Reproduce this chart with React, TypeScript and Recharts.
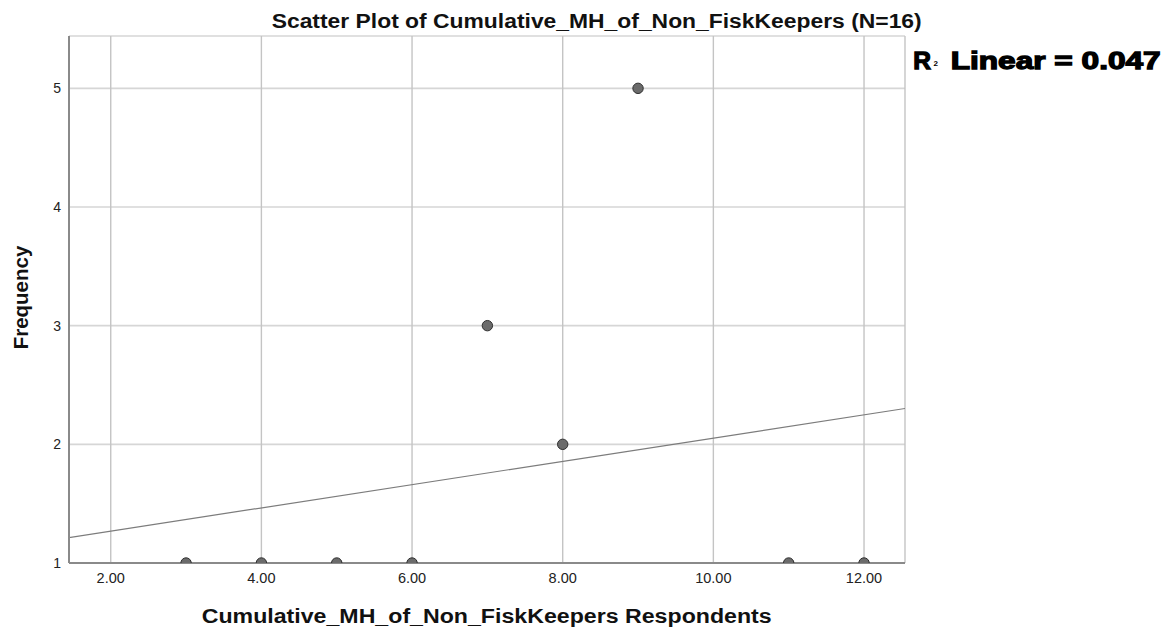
import React from "react";
import {
  ScatterChart,
  Scatter,
  XAxis,
  YAxis,
  CartesianGrid,
  ReferenceLine,
} from "recharts";

const respondentScores = [3, 4, 5, 6, 7, 8, 9, 11, 12];
const frequencies = [1, 1, 1, 1, 3, 2, 5, 1, 1];
const xTicks = [2, 4, 6, 8, 10, 12];
const yTicks = [1, 2, 3, 4, 5];
const fitLineX = [1.446, 12.544];
const fitLineY = [1.214, 2.302];

const points = respondentScores.map((x, i) => ({ x, y: frequencies[i] }));
const fitSegment = fitLineX.map((x, i) => ({ x, y: fitLineY[i] }));

const FONT = '"Liberation Sans", Arial, Helvetica, sans-serif';

const Dot = (props: any) => {
  const { cx, cy } = props;
  if (cx == null || cy == null) return null;
  return <circle cx={cx} cy={cy} r={5.2} fill="#6b6b6b" stroke="#2e2e2e" strokeWidth={1} />;
};

export default function App() {
  return (
    <div
      style={{
        position: "absolute",
        left: 0,
        top: 0,
        width: 1169,
        height: 631,
        background: "#ffffff",
        fontFamily: FONT,
      }}
    >
      <ScatterChart
        width={1169}
        height={631}
        margin={{ top: 36, right: 264, bottom: 0, left: 0 }}
      >
        <CartesianGrid horizontal={true} vertical={false} stroke="#d6d6d6" strokeWidth={1.6} />
        <CartesianGrid horizontal={false} vertical={true} stroke="#c4c4c4" strokeWidth={1.4} />
        <XAxis
          type="number"
          dataKey="x"
          domain={[1.446, 12.544]}
          ticks={xTicks}
          tickFormatter={(v: number) => v.toFixed(2)}
          height={68}
          tickLine={false}
          tickMargin={4}
          axisLine={{ stroke: "#8a8a8a", strokeWidth: 2 }}
          tick={{ fill: "#222", fontSize: 14.5, fontFamily: FONT }}
          allowDataOverflow
        />
        <YAxis
          type="number"
          dataKey="y"
          domain={[1, 5.441]}
          ticks={yTicks}
          width={69}
          tickLine={false}
          axisLine={{ stroke: "#8a8a8a", strokeWidth: 2 }}
          tick={{ fill: "#222", fontSize: 14, fontFamily: FONT }}
          allowDataOverflow
        />
        <ReferenceLine
          segment={fitSegment}
          stroke="#7c7c7c"
          strokeWidth={1.2}
          ifOverflow="hidden"
        />
        <Scatter data={points} shape={<Dot />} isAnimationActive={false} />
      </ScatterChart>
      <svg
        width={1169}
        height={631}
        style={{ position: "absolute", left: 0, top: 0, pointerEvents: "none" }}
      >
        <text
          x={271.7}
          y={28.3}
          fontFamily={FONT}
          fontWeight="bold"
          fontSize={19.5}
          fill="#111"
          textLength={650}
          lengthAdjust="spacingAndGlyphs"
        >
          Scatter Plot of Cumulative_MH_of_Non_FiskKeepers (N=16)
        </text>
        <text
          x={201.7}
          y={623.3}
          fontFamily={FONT}
          fontWeight="bold"
          fontSize={19.5}
          fill="#111"
          textLength={570}
          lengthAdjust="spacingAndGlyphs"
        >
          Cumulative_MH_of_Non_FiskKeepers Respondents
        </text>
        <text
          transform="translate(27.5, 297.5) rotate(-90)"
          x={0}
          y={0}
          textAnchor="middle"
          fontFamily={FONT}
          fontWeight="bold"
          fontSize={20.5}
          fill="#111"
        >
          Frequency
        </text>
        <text
          x={913.3}
          y={69.3}
          fontFamily={FONT}
          fontWeight="bold"
          fontSize={24.5}
          fill="#000"
          stroke="#000"
          strokeWidth={1.3}
        >
          R
        </text>
        <text
          x={933.5}
          y={66}
          fontFamily={FONT}
          fontWeight="bold"
          fontSize={8}
          fill="#000"
        >
          2
        </text>
        <text
          x={950.7}
          y={69.3}
          fontFamily={FONT}
          fontWeight="bold"
          fontSize={24.5}
          fill="#000"
          stroke="#000"
          strokeWidth={1.3}
          textLength={210}
          lengthAdjust="spacingAndGlyphs"
        >
          Linear = 0.047
        </text>
      </svg>
    </div>
  );
}
